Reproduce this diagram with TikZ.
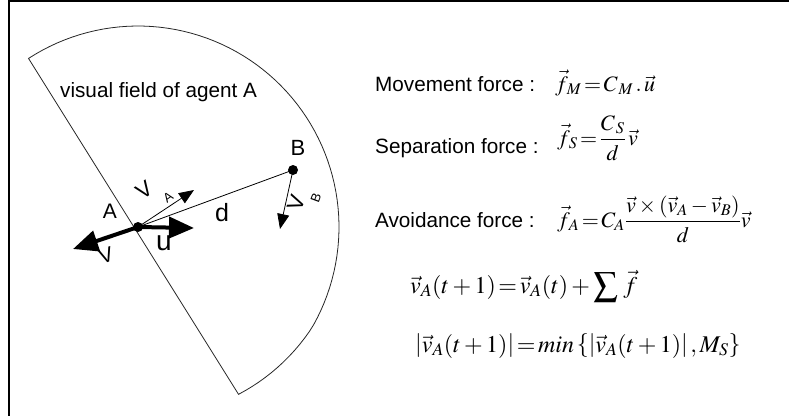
\documentclass[tikz,border=0pt]{standalone}
\usepackage{amsmath}
\usepackage{mathptmx}
\usepackage[no-math]{fontspec}
\newfontfamily\arial{Liberation Sans}
\usetikzlibrary{arrows.meta}
\begin{document}
\begin{tikzpicture}[x=1pt,y=-1pt,
  lbl/.style={font=\arial\fontsize{20.7}{24}\selectfont, inner sep=0pt},
  eq/.style={font=\fontsize{22}{26}\selectfont, inner sep=0pt, anchor=base west},
  bigeq/.style={font=\fontsize{24}{28}\selectfont, inner sep=0pt, anchor=base west},
  frame/.style={line width=2pt},
  field/.style={line width=0.8pt, black!85},
  thin/.style={line width=0.8pt},
  thinarrow/.style={line width=0.8pt, -{Triangle[length=15pt,width=12pt]}},
  boldarrow/.style={line width=4pt, -{Triangle[length=25pt,width=21pt]}},
  dot/.style={circle, fill=black, inner sep=0pt, minimum size=10pt}]
\useasboundingbox (0,0) rectangle (789,416);
% frame (top and left)
\draw[frame] (789,1) -- (9,1) -- (9,416);
% visual field
\draw[field] plot[domain=123:-59, samples=80] ({138+(201+min(0,\x+30)*0.2)*cos(\x)}, {227-(201+min(0,\x+30)*0.2)*sin(\x)}) -- cycle;
\node[lbl, anchor=base west] (vf) at (60,97) {visual field of agent A};
% agents
\node[dot] (A) at (138,227) {};
\node[dot] (B) at (293,170) {};
\coordinate (uend) at (194,228);
\coordinate (vend) at (73,249);
\coordinate (vAend) at (194,190);
\coordinate (vBend) at (280,229);
\draw[thin] (A.center) -- (B.center);
\draw[thinarrow] (A.center) -- (vAend);
\draw[thinarrow] (B.center) -- (vBend);
\draw[boldarrow] (A.center) -- (uend);
\draw[boldarrow] (A.center) -- (vend);
% labels
\node[lbl, font=\arial\fontsize{21}{24}\selectfont] (lA) at (110,211) {A};
\node[lbl, font=\arial\fontsize{22}{24}\selectfont] (lB) at (298,148) {B};
\node[lbl, font=\arial\fontsize{25}{28}\selectfont] (ld) at (222,213) {d};
\node[lbl, font=\arial\fontsize{28}{30}\selectfont] (lu) at (164,243) {u};
\node[lbl, font=\arial\fontsize{22}{24}\selectfont, rotate=35] (lvA) at (144,190) {V};
\node[lbl, font=\arial\fontsize{13}{14}\selectfont, rotate=35] (lvAs) at (168,197) {A};
\node[lbl, font=\arial\fontsize{22}{24}\selectfont, rotate=70] (lvB) at (296,203) {V};
\node[lbl, font=\arial\fontsize{13}{14}\selectfont, rotate=70] (lvBs) at (316,198) {B};
\node[lbl, font=\arial\fontsize{21}{24}\selectfont, rotate=18] (lv) at (106,255) {V};
% equations
\node[lbl, anchor=base west] (tM) at (375,91) {Movement force :};
\node[eq] (eM) at (555,91) {$\vec{f}_{\,M}\!=\!C_{\,M}\,.\,\vec{u}$};
\node[lbl, anchor=base west] (tS) at (375,153) {Separation force :};
\node[eq] (eS) at (557,145) {$\vec{f}_{\,S}\!=\!\dfrac{C_{\,S}}{\rule{0pt}{17pt}d}\,\vec{v}$};
\node[lbl, anchor=base west] (tA) at (375,227) {Avoidance force :};
\node[eq] (eA) at (557,227) {$\vec{f}_{\,A}\!=\!C_{A}\dfrac{\vec{v}\times(\vec{v}_{A}-\vec{v}_{B})}{d}\vec{v}$};
\node[bigeq] (e4) at (410,293) {$\vec{v}_{A}(t+1)\!=\!\vec{v}_{A}(t)+\displaystyle\sum\,\vec{f}$};
\node[bigeq] (e5) at (415,352) {$\left|\vec{v}_{A}(t+1)\right|\!=\!min\left\{\left|\vec{v}_{A}(t+1)\right|,M_{S}\right\}$};
\end{tikzpicture}
\end{document}
